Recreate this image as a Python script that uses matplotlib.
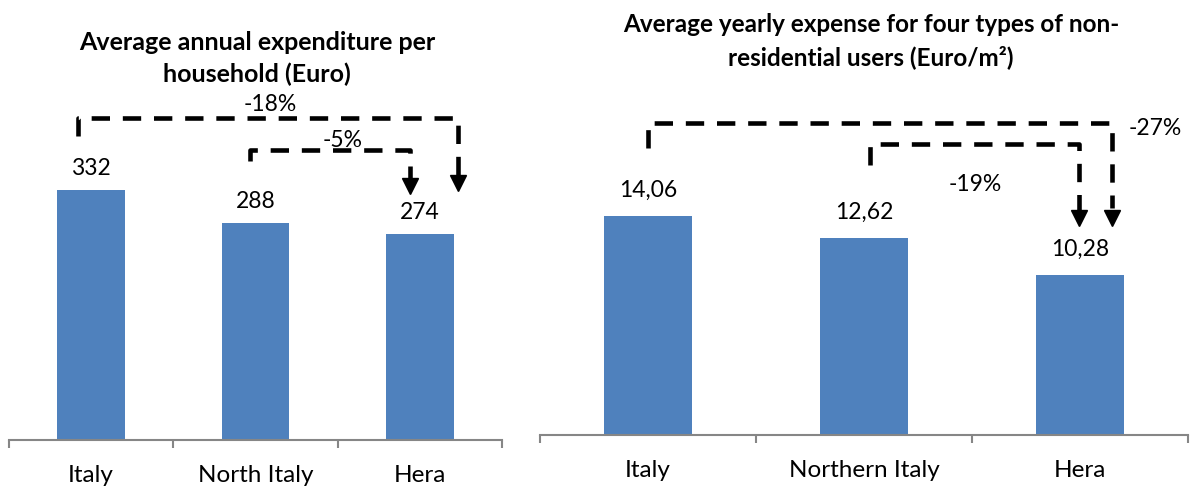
import matplotlib
matplotlib.use("Agg")
import matplotlib.pyplot as plt
import numpy as np

plt.rcParams['font.family'] = ['Lato', 'DejaVu Sans']

# data
cats_left = ["Italy", "North Italy", "Hera"]
vals_left = [332, 288, 274]
labels_left = ["332", "288", "274"]

cats_right = ["Italy", "Northern Italy", "Hera"]
vals_right = [14.06, 12.62, 10.28]
labels_right = ["14,06", "12,62", "10,28"]

title_left = "Average annual expenditure per\nhousehold (Euro)"
title_right = "Average yearly expense for four types of non-\nresidential users (Euro/m²)"

bar_color = "#4F81BD"
axis_color = "#868686"
W, H = 1203, 498

fig = plt.figure(figsize=(W / 100, H / 100), dpi=100)


def px_axes(x0, x1, ybot, ytop):
    return fig.add_axes([x0 / W, 1 - ybot / H, (x1 - x0) / W, (ybot - ytop) / H])


def style(ax, cats):
    x = np.arange(len(cats))
    ax.set_xlim(-0.5, len(cats) - 0.5)
    for s in ["top", "right", "left"]:
        ax.spines[s].set_visible(False)
    ax.spines["bottom"].set_color(axis_color)
    ax.spines["bottom"].set_linewidth(1.5)
    ax.set_yticks([])
    ax.set_xticks(np.arange(len(cats) + 1) - 0.5)
    ax.set_xticklabels([])
    ax.tick_params(axis="x", length=6, width=1.5, color=axis_color)
    ax.set_xticks(x, minor=True)
    ax.set_xticklabels(cats, minor=True, fontsize=17.5)
    ax.tick_params(axis="x", which="minor", length=0, pad=18)


def dashed_arrow(ax, x0, ylow, ytop, x1, yend, yhead):
    ax.plot([x0, x0, x1, x1], [ylow, ytop, ytop, yend], color="black", lw=3.3,
            dashes=(4, 2.8), clip_on=False, solid_capstyle="butt", dash_capstyle="butt")
    ax.plot([x1], [yhead], marker="v", color="black", markersize=11, clip_on=False)


# left panel
ax1 = px_axes(9, 502, 440, 95)
x1 = np.arange(len(cats_left))
ax1.bar(x1, vals_left, width=0.41, color=bar_color)
ax1.set_ylim(0, 345 / 0.753)
style(ax1, cats_left)
for xi, v, lab in zip(x1, vals_left, labels_left):
    ax1.annotate(lab, (xi, v), xytext=(0, 15.5), textcoords="offset points",
                 ha="center", va="center", fontsize=16.5)
dashed_arrow(ax1, -0.08, 404, 428, 2.23, 349, 341)
dashed_arrow(ax1, 0.965, 370, 385, 1.94, 345, 337)
ax1.text(1.09, 446, "-18%", ha="center", va="center", fontsize=16.5)
ax1.text(1.53, 398, "-5%", ha="center", va="center", fontsize=16.5)

# right panel
ax2 = px_axes(540, 1188, 435, 100)
x2 = np.arange(len(cats_right))
ax2.bar(x2, vals_right, width=0.41, color=bar_color)
ax2.set_ylim(0, 335 / 15.58)
style(ax2, cats_right)
for xi, v, lab in zip(x2, vals_right, labels_right):
    ax2.annotate(lab, (xi, v), xytext=(0, 18.5), textcoords="offset points",
                 ha="center", va="center", fontsize=16.5)
dashed_arrow(ax2, 0.0, 18.42, 20.03, 2.148, 14.57, 13.9)
dashed_arrow(ax2, 1.028, 17.33, 18.68, 1.995, 14.44, 13.9)
ax2.text(2.347, 19.7, "-27%", ha="center", va="center", fontsize=16.5)
ax2.text(1.514, 16.05, "-19%", ha="center", va="center", fontsize=16.5)

# titles
fig.text(257 / W, 1 - 58.5 / H, title_left, ha="center", va="center",
         fontsize=18, fontweight="bold", linespacing=1.39)
fig.text(871 / W, 1 - 41 / H, title_right, ha="center", va="center",
         fontsize=17.5, fontweight="bold", linespacing=1.42)

fig.savefig("out.png", dpi=100)
